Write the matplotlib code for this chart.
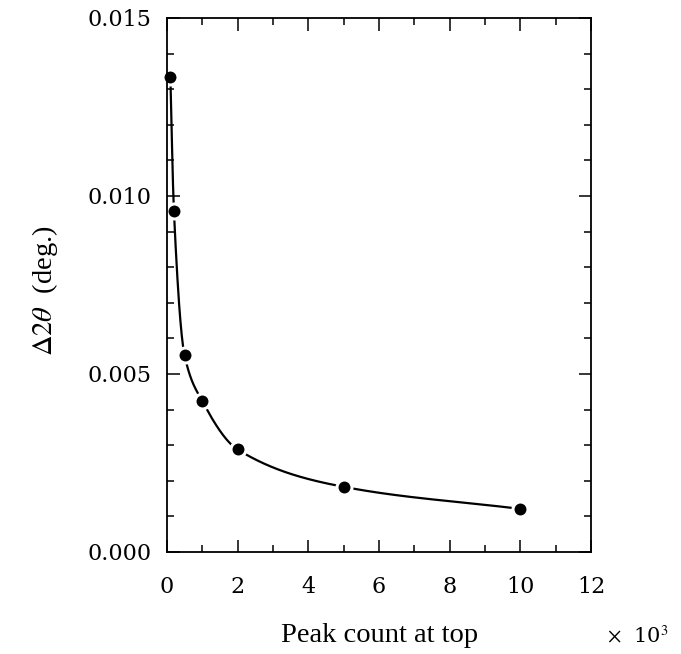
import numpy as np
import matplotlib.pyplot as plt
from matplotlib.ticker import MultipleLocator

plt.rcParams['mathtext.fontset'] = 'stix'

# peak count (x 10^3) and delta 2theta (deg.)
counts = [0.1, 0.2, 0.5, 1, 2, 5, 10]
delta = [0.01335, 0.00958, 0.00553, 0.00424, 0.00288, 0.00183, 0.00121]
xticks = [0, 2, 4, 6, 8, 10, 12]
yticks = [0.000, 0.005, 0.010, 0.015]


def pchip(x, y, xs):
    # monotone cubic through the measured points, only for the drawn curve
    x = np.asarray(x, float)
    y = np.asarray(y, float)
    h = np.diff(x)
    s = np.diff(y) / h
    d = np.zeros_like(y)
    for k in range(1, len(x) - 1):
        if s[k-1] * s[k] > 0:
            w1 = 2*h[k] + h[k-1]
            w2 = h[k] + 2*h[k-1]
            d[k] = (w1 + w2) / (w1/s[k-1] + w2/s[k])
    d[0] = s[0]
    d[-1] = s[-1]
    out = np.empty_like(xs)
    for i, xv in enumerate(xs):
        k = min(np.searchsorted(x, xv) - 1, len(x) - 2)
        k = max(k, 0)
        t = (xv - x[k]) / h[k]
        h00 = 2*t**3 - 3*t**2 + 1
        h10 = t**3 - 2*t**2 + t
        h01 = -2*t**3 + 3*t**2
        h11 = t**3 - t**2
        out[i] = h00*y[k] + h10*h[k]*d[k] + h01*y[k+1] + h11*h[k]*d[k+1]
    return out


fig = plt.figure(figsize=(6.81, 6.54), dpi=100)
ax = fig.add_axes([0.245, 0.156, 0.623, 0.8165])

xs = np.linspace(counts[0], counts[-1], 800)
ax.plot(xs, pchip(counts, delta, xs), color='black', lw=1.6, zorder=2)
ax.plot(counts, delta, 'o', color='black', ms=10.8, mec='white', mew=2.2,
        zorder=2.3, clip_on=False)

ax.set_xlim(0, 12)
ax.set_ylim(0, 0.015)
ax.set_xticks(xticks)
ax.set_yticks(yticks)
ax.set_yticklabels(['%.3f' % v for v in yticks])
ax.xaxis.set_minor_locator(MultipleLocator(1))
ax.yaxis.set_minor_locator(MultipleLocator(0.001))
ax.tick_params(which='both', direction='in', top=True, right=True, width=1.1)
ax.tick_params(which='major', length=9)
ax.tick_params(which='minor', length=5)
ax.tick_params(axis='x', pad=17)
ax.tick_params(axis='y', pad=11)
for lab in ax.get_xticklabels() + ax.get_yticklabels():
    lab.set_family('DejaVu Serif')
    lab.set_fontsize(16)
for sp in ax.spines.values():
    sp.set_linewidth(1.3)
    sp.set_zorder(3)

fig.text(45/681, 0.555, r'$\Delta 2\theta$  (deg.)', family='Liberation Serif',
         fontsize=20.5, rotation=90, ha='center', va='center')
fig.text(0.557, 0.028, 'Peak count at top', family='Liberation Serif', fontsize=20.5,
         ha='center', va='center')
fig.text(0.982, 0.028, r'$\times$  10$^3$', family='DejaVu Serif', fontsize=15,
         ha='right', va='center')

fig.savefig('out.png', dpi=100)
